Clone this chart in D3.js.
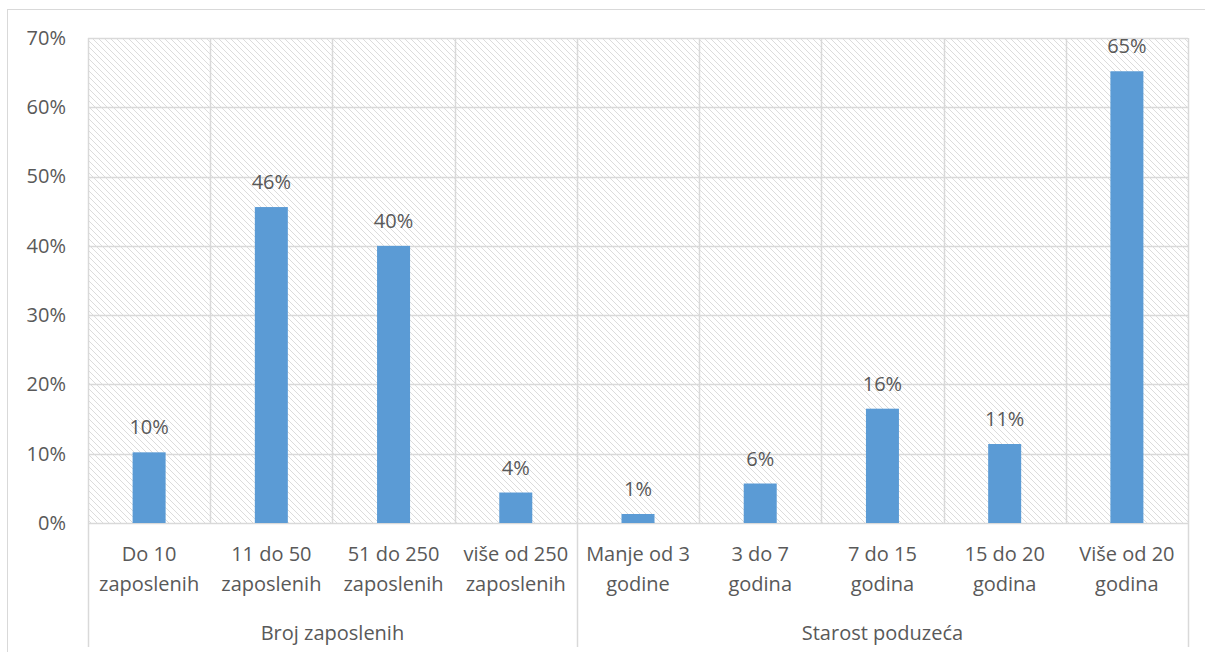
<!DOCTYPE html>
<html><head><meta charset="utf-8">
<script src="https://cdn.jsdelivr.net/npm/d3@7"></script>
<style>body{margin:0;background:#fff}svg{display:block}text{font-family:"Open Sans",sans-serif;fill:#595959}</style>
</head><body>
<svg id="c" width="1205" height="652"></svg>
<script>
const categories = [["Do 10","zaposlenih"],["11 do 50","zaposlenih"],["51 do 250","zaposlenih"],["više od 250","zaposlenih"],["Manje od 3","godine"],["3 do 7","godina"],["7 do 15","godina"],["15 do 20","godina"],["Više od 20","godina"]];
const values = [10.2, 45.6, 40.0, 4.4, 1.3, 5.7, 16.5, 11.4, 65.2];
const valueLabels = ["10%","46%","40%","4%","1%","6%","16%","11%","65%"];
const groups = ["Broj zaposlenih","Starost poduzeća"];
const groupSizes = [4,5];
const yTicks = [0,10,20,30,40,50,60,70];

const svg = d3.select("#c");
const L=88,R=1188,T=38,B=523;
const grid="#d9d9d9";
const fs="20px";
svg.append("rect").attr("x",7.5).attr("y",9.5).attr("width",1220).attr("height",660).attr("fill","none").attr("stroke",grid);
const defs=svg.append("defs");
const p=defs.append("pattern").attr("id","hatch").attr("patternUnits","userSpaceOnUse").attr("width",6).attr("height",6);
p.append("rect").attr("width",6).attr("height",6).attr("fill","#fff");
p.append("path").attr("d","M-1,-1 L7,7 M-7,-1 L1,7 M5,-1 L13,7").attr("stroke","#dcdcdc").attr("stroke-width",1);

const x=d3.scaleBand().domain(d3.range(categories.length)).range([L,R]).paddingInner(0).paddingOuter(0);
const y=d3.scaleLinear().domain([0,70]).range([B,T]);

svg.append("rect").attr("x",L).attr("y",T).attr("width",R-L).attr("height",B-T).attr("fill","url(#hatch)");
svg.append("g").selectAll("line").data(yTicks).join("line")
 .attr("x1",L).attr("x2",R).attr("y1",d=>Math.round(y(d))+0.5).attr("y2",d=>Math.round(y(d))+0.5)
 .attr("stroke",grid).attr("stroke-width",1.5);
svg.append("g").selectAll("line").data(d3.range(categories.length+1)).join("line")
 .attr("x1",d=>Math.round(L+d*x.bandwidth())+0.5).attr("x2",d=>Math.round(L+d*x.bandwidth())+0.5)
 .attr("y1",T).attr("y2",B).attr("stroke",grid).attr("stroke-width",1.5);
const yAxis=d3.axisLeft(y).tickValues(yTicks).tickFormat(d=>d+"%").tickSize(0).tickPadding(22);
const ya=svg.append("g").attr("transform",`translate(${L},0)`).call(yAxis);
ya.select(".domain").remove();
ya.selectAll("text").style("font-size",fs).attr("fill","#595959").style("font-family","'Open Sans',sans-serif");

const bw=33;
svg.append("g").selectAll("rect").data(values).join("rect")
 .attr("x",(d,i)=>x(i)+x.bandwidth()/2-bw/2).attr("width",bw)
 .attr("y",d=>y(d)).attr("height",d=>B-y(d)).attr("fill","#5B9BD5");
svg.append("g").selectAll("text").data(values).join("text")
 .attr("x",(d,i)=>x(i)+x.bandwidth()/2).attr("y",d=>y(d)-18)
 .attr("text-anchor","middle").style("font-size",fs).text((d,i)=>valueLabels[i]);

const cl=svg.append("g").selectAll("text").data(categories).join("text")
 .attr("text-anchor","middle").style("font-size",fs);
cl.each(function(d,i){
 const t=d3.select(this);
 d.forEach((s,j)=>t.append("tspan").attr("x",x(i)+x.bandwidth()/2).attr("y",561+j*30).text(s));
});
let acc=0; const bounds=[0];
groupSizes.forEach(s=>{acc+=s;bounds.push(acc);});
svg.append("g").selectAll("line").data(bounds).join("line")
 .attr("x1",d=>Math.round(L+d*x.bandwidth())+0.5).attr("x2",d=>Math.round(L+d*x.bandwidth())+0.5)
 .attr("y1",B).attr("y2",647).attr("stroke",grid).attr("stroke-width",1.5);
svg.append("g").selectAll("text").data(groups).join("text")
 .attr("x",(d,i)=>L+(bounds[i]+bounds[i+1])/2*x.bandwidth()).attr("y",640)
 .attr("text-anchor","middle").style("font-size",fs).text(d=>d);
</script>
</body></html>
